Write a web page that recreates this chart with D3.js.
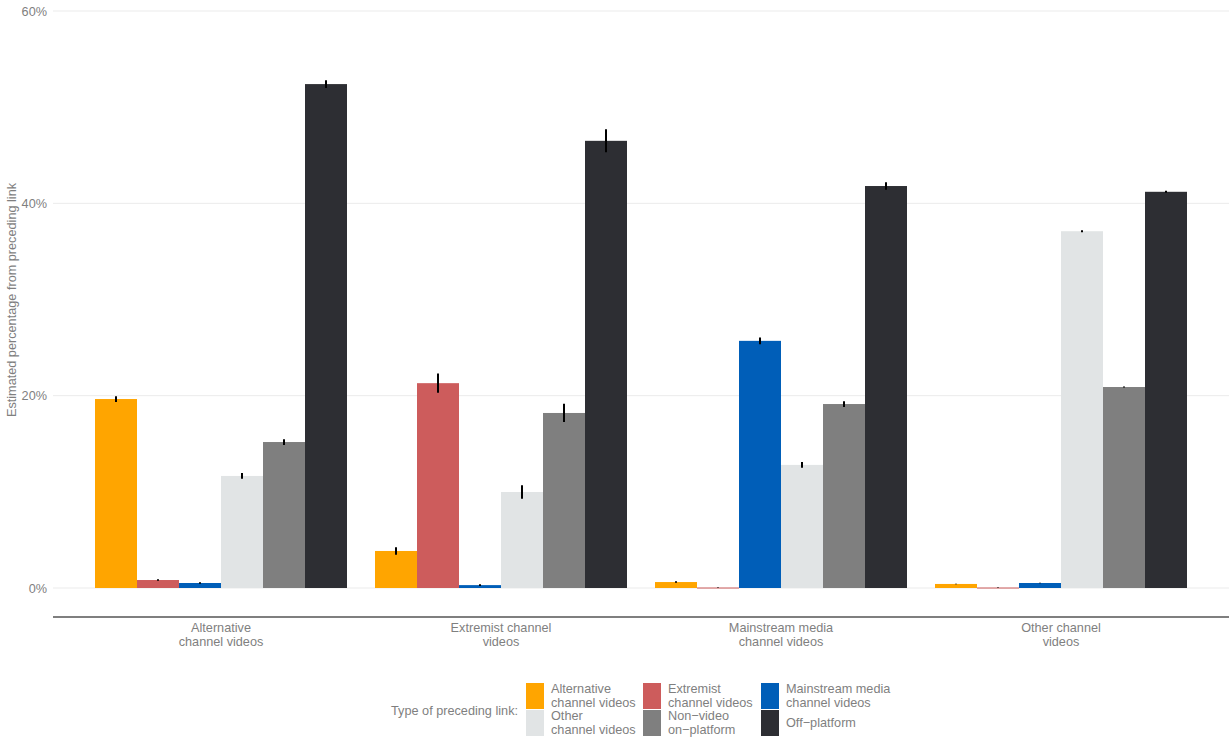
<!DOCTYPE html>
<html><head><meta charset="utf-8">
<script src="https://cdn.jsdelivr.net/npm/d3@7"></script>
<style>body{margin:0;background:#fff;} text{font-family:"Liberation Sans",Arial,sans-serif;}</style>
</head><body><svg id="c" width="1231" height="738"></svg>
<script>
const categories = ["Alternative\nchannel videos","Extremist channel\nvideos","Mainstream media\nchannel videos","Other channel\nvideos"];
const seriesNames = ["Alternative\nchannel videos","Extremist\nchannel videos","Mainstream media\nchannel videos","Other\nchannel videos","Non\u2212video\non\u2212platform","Off\u2212platform"];
const seriesColors = ["#FFA500","#CD5C5C","#005EB8","#E1E4E5","#7F7F7F","#2D2E33"];
// values (%) per category, in series order
const valAlternative = [19.65, 0.83, 0.52, 11.65, 15.18, 52.4];
const valExtremist   = [3.85, 21.3, 0.3, 9.98, 18.2, 46.5];
const valMainstream  = [0.62, 0.05, 25.7, 12.8, 19.13, 41.8];
const valOther       = [0.42, 0.05, 0.52, 37.1, 20.9, 41.2];
// error half-widths (%)
const errAlternative = [0.3, 0.08, 0.08, 0.3, 0.3, 0.4];
const errExtremist   = [0.4, 1.0, 0.1, 0.7, 0.95, 1.2];
const errMainstream  = [0.08, 0.03, 0.35, 0.3, 0.3, 0.4];
const errOther       = [0.03, 0.02, 0.03, 0.1, 0.05, 0.1];
const yTicks = [0, 20, 40, 60];

const values = [valAlternative, valExtremist, valMainstream, valOther];
const errs = [errAlternative, errExtremist, errMainstream, errOther];

const svg = d3.select("#c");
const pLeft = 53, pRight = 1229, axisY = 617;
const fs = 12.7;
const y = d3.scaleLinear().domain([0, 60]).range([588, 11]);
// ggplot-style discrete scale: units 0.4..4.6, centers at 1..4, bar group width 0.9
const xc = d3.scaleLinear().domain([0.4, 4.6]).range([pLeft, pRight]);
const cx = i => xc(i + 1);
const groupW = xc(1.9) - xc(1);
const x1 = d3.scaleBand().domain(d3.range(6)).range([0, groupW]);
const grey = "#7f7f7f";

// gridlines
svg.append("g").selectAll("line").data(yTicks).join("line")
  .attr("x1", pLeft).attr("x2", pRight).attr("y1", d => y(d)).attr("y2", d => y(d))
  .attr("stroke", "#EBEBEB").attr("stroke-width", 1);

// y axis labels
const yAxis = d3.axisLeft(y).tickValues(yTicks).tickFormat(d => d + "%").tickSize(0).tickPadding(6);
const ya = svg.append("g").attr("transform", `translate(${pLeft},0)`).call(yAxis);
ya.select(".domain").remove();
ya.selectAll("text").attr("fill", grey).attr("font-size", fs).attr("font-family", "Liberation Sans, Arial, sans-serif");

// bars
categories.forEach((c, i) => {
  const g = svg.append("g").attr("transform", `translate(${cx(i) - groupW/2},0)`);
  g.selectAll("rect").data(values[i]).join("rect")
    .attr("x", (d, j) => x1(j)).attr("width", x1.bandwidth())
    .attr("y", d => y(d)).attr("height", d => Math.max(1, y(0) - y(d)))
    .attr("fill", (d, j) => seriesColors[j]);
  g.selectAll("line").data(values[i]).join("line")
    .attr("x1", (d, j) => x1(j) + x1.bandwidth()/2).attr("x2", (d, j) => x1(j) + x1.bandwidth()/2)
    .attr("y1", (d, j) => y(d + errs[i][j])).attr("y2", (d, j) => y(d - errs[i][j]))
    .attr("stroke", "#000").attr("stroke-width", 2);
});

// x axis line
svg.append("line").attr("x1", pLeft).attr("x2", pRight).attr("y1", axisY).attr("y2", axisY)
  .attr("stroke", "#555").attr("stroke-width", 1.5);

// x labels
categories.forEach((c, i) => {
  const t = svg.append("text").attr("text-anchor", "middle").attr("fill", grey).attr("font-size", fs);
  c.split("\n").forEach((ln, k) => t.append("tspan").attr("x", cx(i)).attr("y", 632 + k * 14).text(ln));
});

// y title
svg.append("text").attr("transform", "translate(16,300) rotate(-90)").attr("text-anchor", "middle")
  .attr("fill", grey).attr("font-size", fs).text("Estimated percentage from preceding link");

// legend
svg.append("text").attr("x", 518).attr("y", 715).attr("text-anchor", "end").attr("fill", grey)
  .attr("font-size", fs).text("Type of preceding link:");
const colX = [526, 643, 761];
seriesNames.forEach((s, j) => {
  const col = j % 3, row = Math.floor(j / 3);
  const kx = colX[col], ky = 683 + row * 27;
  svg.append("rect").attr("x", kx).attr("y", ky).attr("width", 18).attr("height", 26).attr("fill", seriesColors[j]);
  const lines = s.split("\n");
  const t = svg.append("text").attr("fill", grey).attr("font-size", fs);
  const startY = ky + 13 - (lines.length - 1) * 7 + 4;
  lines.forEach((ln, k) => t.append("tspan").attr("x", kx + 25).attr("y", startY + k * 14).text(ln));
});
</script></body></html>
